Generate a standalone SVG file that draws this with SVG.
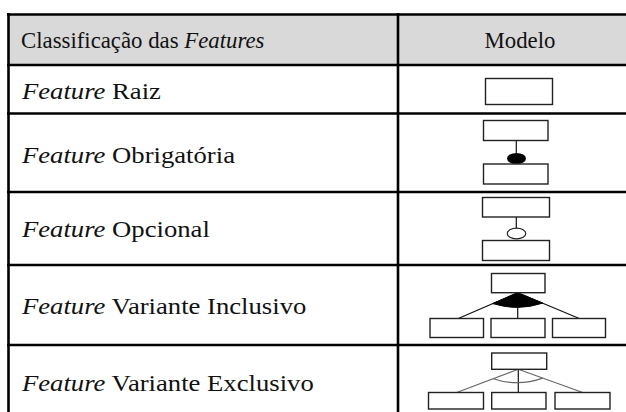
<svg xmlns="http://www.w3.org/2000/svg" width="626" height="412" viewBox="0 0 626 412">
<style>
.t{font-family:"Liberation Serif","Times New Roman",serif;font-size:23.5px;fill:#111}
.i{font-style:italic}
.rule{stroke:#000;stroke-width:2.6;fill:none}
.box{fill:#fff;stroke:#222;stroke-width:1.4}
.ln{stroke:#111;stroke-width:1.2;fill:none}
.gl{stroke:#666;stroke-width:1.2;fill:none}
</style>
<rect width="626" height="412" fill="#fff"/>
<g id="table">
<rect x="8" y="14" width="618" height="51" fill="#d9d9d9"/>
<path class="rule" d="M7 14.5H626M7 65H626M7 113.5H626M7 192H626M7 265H626M7 345H626M8.5 13V412M398 13V412"/>
</g>
<g id="labels">
<text class="t" transform="matrix(0.97 0 0 1 21 48)">Classificação das <tspan class="i">Features</tspan></text>
<text class="t" text-anchor="middle" transform="matrix(0.97 0 0 1 520 48)">Modelo</text>
<text class="t" transform="matrix(1.135 0 0 1 22 98.5)"><tspan class="i">Feature</tspan> Raiz</text>
<text class="t" transform="matrix(1.135 0 0 1 22 163)"><tspan class="i">Feature</tspan> Obrigatória</text>
<text class="t" transform="matrix(1.135 0 0 1 22 237)"><tspan class="i">Feature</tspan> Opcional</text>
<text class="t" transform="matrix(1.135 0 0 1 22 314)"><tspan class="i">Feature</tspan> Variante Inclusivo</text>
<text class="t" transform="matrix(1.135 0 0 1 22 391)"><tspan class="i">Feature</tspan> Variante Exclusivo</text>
</g>
<g id="connectors">
<path class="ln" d="M516.3 140.5V154"/>
<path class="ln" d="M516.3 217V228.5"/>
<path class="ln" d="M517.7 292.7L458.3 318.5M517.7 292.7L579.3 318.5M517.7 292.7V318.5"/>
<path d="M517.7 292.7L492.7 303.6Q517.7 311.5 542.7 303.1Z" fill="#000" stroke="#000" stroke-width="1"/>
<path class="gl" d="M518.3 369.3L456.7 392.5M518.3 369.3L582.7 392.5"/>
<path class="ln" d="M518.3 369.3V392.5"/>
<path class="gl" d="M493.3 378.7Q518 387 542.7 378.1"/>
<ellipse cx="516.5" cy="158.5" rx="9.5" ry="5.5" fill="#000"/>
<ellipse cx="516.5" cy="233.5" rx="9.3" ry="5.3" fill="#fff" stroke="#222" stroke-width="1.2"/>
</g>
<g id="raiz"><rect class="box" x="485.5" y="78.5" width="67" height="26"/></g>
<g id="obrigatoria-pai"><rect class="box" x="483.5" y="120.5" width="64.5" height="20"/></g>
<g id="obrigatoria-filho"><rect class="box" x="483.5" y="164" width="64.5" height="20"/></g>
<g id="opcional-pai"><rect class="box" x="482.5" y="197.5" width="67" height="19.5"/></g>
<g id="opcional-filho"><rect class="box" x="482.5" y="240.5" width="67" height="20"/></g>
<g id="inclusivo-pai"><rect class="box" x="491.5" y="273.5" width="53.5" height="19.2"/></g>
<g id="inclusivo-filho1"><rect class="box" x="430" y="318.5" width="53.5" height="19"/></g>
<g id="inclusivo-filho2"><rect class="box" x="491" y="318.5" width="54" height="19"/></g>
<g id="inclusivo-filho3"><rect class="box" x="552.5" y="318.5" width="53" height="19"/></g>
<g id="exclusivo-pai"><rect class="box" x="491.7" y="353" width="55" height="16.3"/></g>
<g id="exclusivo-filho1"><rect class="box" x="428.5" y="392.5" width="55" height="16.5"/></g>
<g id="exclusivo-filho2"><rect class="box" x="491.7" y="392.5" width="54.3" height="16.5"/></g>
<g id="exclusivo-filho3"><rect class="box" x="555" y="392.5" width="55" height="16.5"/></g>
</svg>
